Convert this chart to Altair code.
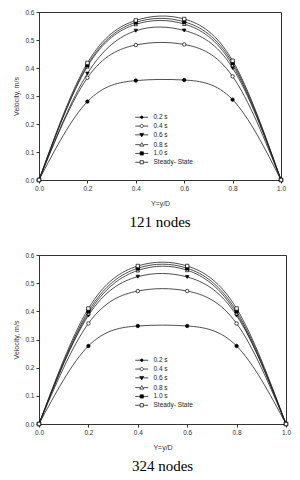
import altair as alt
import pandas as pd

x_vals = [0.0, 0.2, 0.4, 0.6, 0.8, 1.0]
y_ticks = [0.0, 0.1, 0.2, 0.3, 0.4, 0.5, 0.6]
series_names = ["0.2 s", "0.4 s", "0.6 s", "0.8 s", "1.0 s", "Steady- State"]

# 121 nodes
n121_t02 = [0.0, 0.280, 0.355, 0.357, 0.287, 0.0]
n121_t04 = [0.0, 0.365, 0.482, 0.484, 0.370, 0.0]
n121_t06 = [0.0, 0.380, 0.533, 0.534, 0.400, 0.0]
n121_t08 = [0.0, 0.405, 0.556, 0.557, 0.410, 0.0]
n121_t10 = [0.0, 0.410, 0.563, 0.565, 0.418, 0.0]
n121_ss = [0.0, 0.418, 0.570, 0.575, 0.426, 0.0]

# 324 nodes
n324_t02 = [0.0, 0.277, 0.348, 0.348, 0.277, 0.0]
n324_t04 = [0.0, 0.357, 0.472, 0.472, 0.357, 0.0]
n324_t06 = [0.0, 0.385, 0.523, 0.522, 0.385, 0.0]
n324_t08 = [0.0, 0.392, 0.545, 0.546, 0.392, 0.0]
n324_t10 = [0.0, 0.400, 0.553, 0.553, 0.400, 0.0]
n324_ss = [0.0, 0.410, 0.561, 0.561, 0.410, 0.0]

marker_shapes = ["circle", "circle", "triangle-down", "triangle-up", "square", "square"]
marker_fills = ["black", "white", "black", "white", "black", "white"]
marker_strokes = ["black"] * 6

line_part = "M-3.6,0H-1M1,0H3.6"
legend_paths = [
    "M-3.6,0H3.6M-0.7,0A0.7,0.7 0 1,0 0.7,0A0.7,0.7 0 1,0 -0.7,0Z",
    line_part + "M-0.9,0A0.9,0.9 0 1,0 0.9,0A0.9,0.9 0 1,0 -0.9,0Z",
    "M-3.6,0H3.6M-1.1,-0.8L1.1,-0.8L0,1.1Z",
    line_part + "M-1.1,0.8L1.1,0.8L0,-1.1Z",
    "M-3.6,0H3.6M-0.9,-0.9H0.9V0.9H-0.9Z",
    line_part + "M-0.9,-0.9H0.9V0.9H-0.9Z",
]


def make_df(arrays):
    rows = []
    for name, vals in zip(series_names, arrays):
        for xv, vv in zip(x_vals, vals):
            rows.append({"x": xv, "v": vv, "s": name})
    return pd.DataFrame(rows)


df121 = make_df([n121_t02, n121_t04, n121_t06, n121_t08, n121_t10, n121_ss])
df324 = make_df([n324_t02, n324_t04, n324_t06, n324_t08, n324_t10, n324_ss])


def panel(df, w, h, caption, lx, ly, cap_off):
    xenc = alt.X("x:Q", scale=alt.Scale(domain=[0, 1], nice=False),
                 axis=alt.Axis(values=x_vals, format=".1f", title="Y=y/D",
                               labelFlush=False, labelOverlap=False))
    yenc = alt.Y("v:Q", scale=alt.Scale(domain=[0, 0.6], nice=False),
                 axis=alt.Axis(values=y_ticks, format=".1f", title="Velocity, m/s",
                               labelFlush=False, labelOverlap=False, titlePadding=5))
    base = alt.Chart(df).encode(xenc, yenc)
    lines = base.mark_line(interpolate="natural", color="#222", strokeWidth=0.8).encode(
        detail="s:N")
    pts = base.mark_point(filled=True, stroke="black", strokeWidth=0.7, size=12, opacity=1).encode(
        shape=alt.Shape("s:N", scale=alt.Scale(domain=series_names, range=marker_shapes), legend=None),
        fill=alt.Fill("s:N", scale=alt.Scale(domain=series_names, range=marker_fills), legend=None),
    )
    leg_def = dict(orient="none", legendX=lx, legendY=ly, title=None,
                   symbolSize=13, symbolStrokeWidth=0.7, symbolStrokeColor="black",
                   symbolOpacity=1,
                   labelFontSize=6.5, labelFont="Liberation Sans", labelColor="#222",
                   labelOffset=8.5, rowPadding=1.8)
    leg = base.transform_filter("datum.x > 5").mark_point(
        filled=False, strokeWidth=0.7, opacity=1).encode(
        shape=alt.Shape("s:N", scale=alt.Scale(domain=series_names, range=legend_paths),
                        legend=alt.Legend(**leg_def)),
        fill=alt.Fill("s:N", scale=alt.Scale(domain=series_names, range=marker_fills),
                      legend=alt.Legend(**leg_def)),
        stroke=alt.Stroke("s:N", scale=alt.Scale(domain=series_names, range=marker_strokes),
                          legend=alt.Legend(**leg_def)),
    )
    return alt.layer(lines, pts, leg).resolve_scale(
        shape="independent", fill="independent", stroke="independent"
    ).properties(
        width=w, height=h,
        title=alt.TitleParams(caption, orient="bottom", font="Liberation Serif", fontSize=15,
                              fontWeight="normal", color="black", offset=cap_off),
    )


top = panel(df121, 242, 168, "121 nodes", 99.5, 102, 8)
bottom = panel(df324, 247, 169, "324 nodes", 99.5, 102, 8)

chart = alt.vconcat(top, bottom, spacing=21).properties(
    padding={"left": 4, "top": 0, "right": 0, "bottom": 0}
).configure_view(
    stroke="#333", strokeWidth=1
).configure_axis(
    grid=False, domainColor="#333", tickColor="#333", tickSize=3, domainWidth=1,
    labelFont="Liberation Sans", labelFontSize=6.5, labelColor="#333", labelPadding=2,
    titleFont="Liberation Sans", titleFontSize=7, titleFontWeight="normal", titleColor="#3a3030",
    titlePadding=8,
)

chart.save("out.html", embed_options={"renderer": "svg", "actions": False})
